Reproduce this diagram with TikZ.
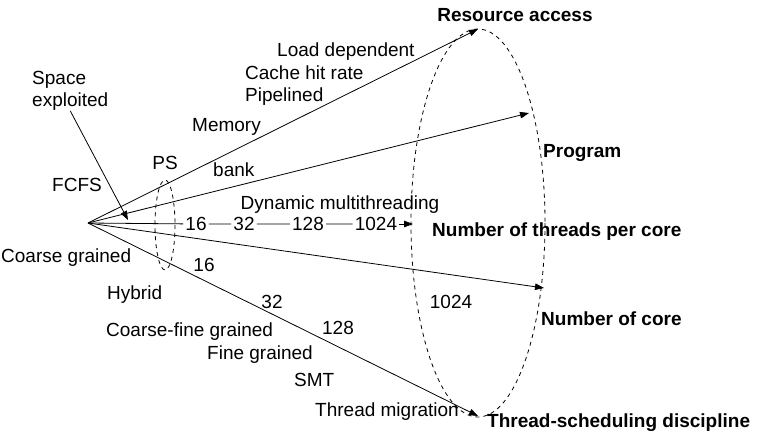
\documentclass[tikz,border=0pt]{standalone}
\usepackage{fontspec}
\setmainfont{Liberation Sans}
\usetikzlibrary{arrows.meta}
\tikzset{
  lbl/.style={font=\fontsize{19}{22}\selectfont, inner sep=0pt},
  head/.style={font=\fontsize{19}{22}\selectfont\bfseries, inner sep=0pt},
  num/.style={font=\fontsize{19}{22}\selectfont, inner sep=2pt},
  axis/.style={line width=0.8pt, -{Triangle[length=9pt,width=6.5pt]}},
  ring/.style={line width=0.8pt, dash pattern=on 4pt off 4pt}
}
\begin{document}
\begin{tikzpicture}[x=1pt, y=-1pt]
        \useasboundingbox (0,0) rectangle (757,436);
        % Origin and arrow ends
        \coordinate (o) at (88,223);
        \coordinate (ra) at (478,29);
        \coordinate (pg) at (529,113);
        \coordinate (nc) at (544,288);
        \coordinate (ts) at (478,416);
        \coordinate (tc) at (413,224);

        % Dashed ellipses
        \draw[ring] (165,225) ellipse (10 and 45);
        \draw[ring] (478,223) ellipse (67 and 194);

        % Axes
        \draw[axis] (o) -- (ra);
        \draw[axis] (o) -- (pg);
        \draw[axis] (o) -- (nc);
        \draw[axis] (o) -- (ts);

        % Threads per core axis
        \node[num] (n16) at (196,224) {16};
        \node[num] (n32) at (244,224) {32};
        \node[num] (n128) at (308,224) {128};
        \node[num] (n1024) at (376,224) {1024};
        \draw[line width=0.8pt] (o) -- (n16) -- (n32) -- (n128) -- (n1024);
        \draw[axis] (n1024) -- (tc);

        % Space exploited
        \node[lbl, align=left, anchor=west] (space) at (32,91) {Space\\exploited};
        \draw[axis] (space.south) -- (128,220);

        % Axis titles
        \node[head] (tra) at (515,15) {Resource access};
        \node[head, anchor=west] (tpg) at (543,153) {Program};
        \node[head, anchor=west] (ttc) at (432,232) {Number of threads per core};
        \node[head, anchor=west] (tnc) at (541,319) {Number of core};
        \node[head, anchor=west] (tts) at (487,423) {Thread-scheduling discipline};

        % Resource access values
        \node[lbl, anchor=west] (load) at (277,52) {Load dependent};
        \node[lbl, anchor=west] (cache) at (245,73) {Cache hit rate};
        \node[lbl, anchor=west] (pipe) at (245,97) {Pipelined};
        \node[lbl, anchor=west] (mem) at (192,127) {Memory};
        \node[lbl, anchor=west] (bank) at (213,170) {bank};
        \node[lbl] (ps) at (165,163) {PS};
        \node[lbl, anchor=west] (fcfs) at (52,185) {FCFS};
        \node[lbl] (dyn) at (340,205) {Dynamic multithreading};

        % Lower values
        \node[lbl, anchor=west] (coarse) at (1,258) {Coarse grained};
        \node[lbl] (c16) at (204,265) {16};
        \node[lbl, anchor=west] (hyb) at (107,295) {Hybrid};
        \node[lbl] (c32) at (272,302) {32};
        \node[lbl, anchor=west] (cfg) at (106,332) {Coarse-fine grained};
        \node[lbl] (c128) at (338,328) {128};
        \node[lbl, anchor=west] (fine) at (207,355) {Fine grained};
        \node[lbl, anchor=west] (smt) at (294,380) {SMT};
        \node[lbl, anchor=west] (mig) at (315,412) {Thread migration};
        \node[lbl] (c1024) at (451,302) {1024};
\end{tikzpicture}
\end{document}
